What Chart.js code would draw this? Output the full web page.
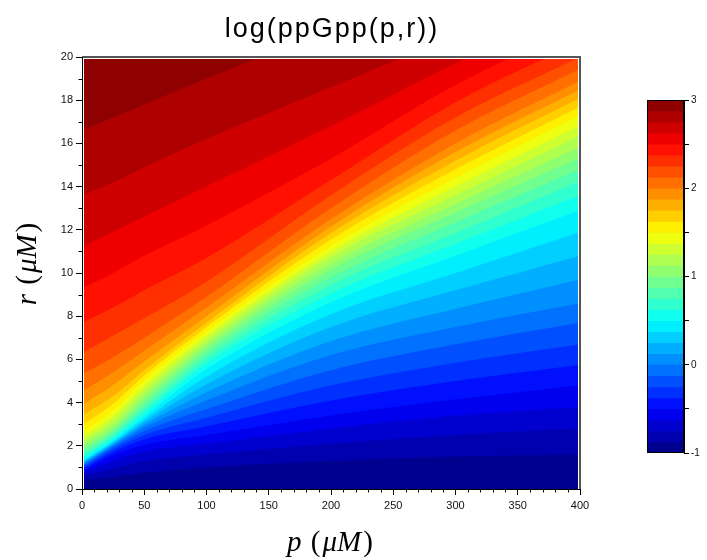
<!DOCTYPE html>
<html>
<head>
<meta charset="utf-8">
<title>log(ppGpp(p,r))</title>
<script src="https://cdn.jsdelivr.net/npm/chart.js@4.4.1/dist/chart.umd.min.js"></script>
<style>
  html, body { margin: 0; padding: 0; background: #fff; }
  #wrap { position: relative; width: 707px; height: 560px; }
  #wrap canvas { position: absolute; left: 0; top: 0; }
</style>
</head>
<body>
<div id="wrap">
  <canvas id="heat" width="707" height="560"></canvas>
  <canvas id="colorbar" width="707" height="560"></canvas>
</div>
<script>
// p sample positions (uM) where each contour is read
const pGrid = [0, 25, 50, 100, 200, 300, 400];

// contour levels of log(ppGpp), lower edge of every colour band above the floor
const levelEdges = [
  -0.875, -0.75, -0.625, -0.5, -0.375, -0.25, -0.125, 0,
  0.125, 0.25, 0.375, 0.5, 0.625, 0.75, 0.875, 1,
  1.125, 1.25, 1.375, 1.5, 1.625, 1.75, 1.875, 2,
  2.125, 2.25, 2.375, 2.5, 2.625, 2.75, 2.875
];
const colorRange = [-1, 3];

// r (uM) where each level is crossed, one list per p column
const r_p0 = [0.40, 0.60, 0.72, 0.82, 0.90, 0.97, 1.04, 1.10, 1.15, 1.20, 1.26, 1.32, 1.42, 1.55, 1.70, 1.86,
  2.03, 2.21, 2.40, 2.62, 2.95, 3.40, 3.90, 4.50, 5.30, 6.30, 7.70, 9.30, 11.2, 13.6, 16.6];
const r_p25 = [0.55, 0.95, 1.30, 1.55, 1.70, 1.82, 1.92, 2.00, 2.06, 2.12, 2.18, 2.25, 2.36, 2.48, 2.62, 2.76,
  2.95, 3.15, 3.38, 3.62, 3.95, 4.30, 4.80, 5.40, 6.10, 7.10, 8.40, 10.0, 11.9, 14.2, 17.2];
const r_p50 = [0.75, 1.30, 1.75, 2.05, 2.30, 2.50, 2.68, 2.85, 2.98, 3.10, 3.22, 3.35, 3.52, 3.70, 3.90, 4.10,
  4.32, 4.55, 4.78, 5.02, 5.25, 5.50, 5.90, 6.40, 7.00, 7.90, 9.20, 10.8, 12.6, 14.9, 17.8];
const r_p100 = [1.00, 1.60, 2.10, 2.50, 2.90, 3.30, 3.70, 4.10, 4.48, 4.85, 5.20, 5.55, 5.82, 6.05, 6.28, 6.50,
  6.70, 6.90, 7.10, 7.30, 7.50, 7.70, 8.00, 8.40, 8.90, 9.60, 10.7, 12.2, 14.0, 16.2, 19.0];
const r_p200 = [1.30, 2.10, 2.80, 3.40, 4.10, 4.80, 5.50, 6.20, 6.85, 7.50, 8.10, 8.65, 9.05, 9.45, 9.80, 10.15,
  10.45, 10.75, 11.00, 11.25, 11.55, 11.85, 12.15, 12.50, 13.00, 13.60, 14.30, 15.30, 16.80, 18.60, 21.20];
const r_p300 = [1.50, 2.50, 3.40, 4.15, 5.00, 5.85, 6.70, 7.50, 8.35, 9.20, 10.00, 10.80, 11.35, 11.85, 12.35, 12.80,
  13.20, 13.60, 14.00, 14.40, 14.80, 15.20, 15.60, 16.00, 16.60, 17.20, 17.90, 18.70, 19.70, 21.00, 23.20];
const r_p400 = [1.60, 2.80, 3.80, 4.80, 5.75, 6.70, 7.70, 8.60, 9.70, 10.80, 11.90, 12.90, 13.60, 14.25, 14.80, 15.35,
  15.85, 16.35, 16.85, 17.30, 17.70, 18.10, 18.50, 18.90, 19.45, 20.00, 20.70, 21.50, 22.50, 23.60, 25.50];
const rColumns = [r_p0, r_p25, r_p50, r_p100, r_p200, r_p300, r_p400];

// jet colormap over colorRange
function jet(v) {
  const t = (v - colorRange[0]) / (colorRange[1] - colorRange[0]);
  const ch = (c) => Math.round(255 * Math.min(1, Math.max(0, 1.5 - Math.abs(4 * t - c))));
  return `rgb(${ch(3)}, ${ch(2)}, ${ch(1)})`;
}

const bandLows = [colorRange[0], ...levelEdges];
const bandHighs = [...levelEdges, colorRange[1]];
const bandColors = bandLows.map((lo, i) => jet((lo + bandHighs[i]) / 2));

const tickFont = { family: "'Liberation Sans', Arial, sans-serif", size: 11 };

// every band fills from its lower contour up to the top; higher bands are drawn on top
const heatSets = [];
heatSets.push({
  data: pGrid.map((p) => ({ x: p, y: 0 })),
  backgroundColor: bandColors[0],
  borderColor: bandColors[0],
  order: levelEdges.length + 1,
});
levelEdges.forEach((lvl, k) => {
  heatSets.push({
    data: pGrid.map((p, j) => ({ x: p, y: rColumns[j][k] })),
    backgroundColor: bandColors[k + 1],
    borderColor: bandColors[k + 1],
    order: levelEdges.length - k,
  });
});
heatSets.forEach((ds) => {
  ds.fill = "end";
  ds.borderWidth = 0;
  ds.pointRadius = 0;
  ds.cubicInterpolationMode = "monotone";
});

// draws "x (μM)" with the math letters in italic
function drawUnitLabel(ctx, letter, cx, cy, angle) {
  const parts = [[letter, "italic "], [" (", ""], ["\u03bcM", "italic "], [")", ""]];
  const fam = "29px 'Liberation Serif', 'DejaVu Serif', serif";
  const gap = 2;
  ctx.save();
  ctx.translate(cx, cy);
  ctx.rotate(angle);
  ctx.textAlign = "left";
  ctx.textBaseline = "middle";
  let w = 0;
  parts.forEach(([s, st]) => { ctx.font = st + fam; w += ctx.measureText(s).width + gap; });
  let x = -w / 2;
  parts.forEach(([s, st]) => {
    ctx.font = st + fam;
    ctx.fillText(s, x, 0);
    x += ctx.measureText(s).width + gap;
  });
  ctx.restore();
}

// frame, minor ticks, white margin round the image and the texts
const heatDecor = {
  id: "heatDecor",
  afterDatasetsDraw(chart) {
    const { ctx, chartArea: a, scales } = chart;
    ctx.save();
    ctx.fillStyle = "#fff";
    ctx.fillRect(a.left, a.top, a.right - a.left, 2);
    ctx.fillRect(a.left, a.top, 2, a.bottom - a.top);
    ctx.fillRect(a.right - 2, a.top, 2, a.bottom - a.top);

    ctx.strokeStyle = "#555";
    ctx.lineWidth = 2;
    ctx.beginPath();
    ctx.moveTo(a.left, a.top);
    ctx.lineTo(a.right, a.top);
    ctx.lineTo(a.right, a.bottom);
    ctx.stroke();

    ctx.strokeStyle = "#000";
    ctx.lineWidth = 1;
    ctx.beginPath();
    ctx.moveTo(a.left + 0.5, a.top);
    ctx.lineTo(a.left + 0.5, a.bottom + 0.5);
    ctx.lineTo(a.right, a.bottom + 0.5);
    for (let p = 10; p < 400; p += 10) {
      if (p % 50 === 0) continue;
      const x = Math.round(scales.x.getPixelForValue(p)) + 0.5;
      ctx.moveTo(x, a.bottom);
      ctx.lineTo(x, a.bottom + 3.5);
    }
    for (let r = 1; r < 20; r += 2) {
      const y = Math.round(scales.y.getPixelForValue(r)) + 0.5;
      ctx.moveTo(a.left, y);
      ctx.lineTo(a.left - 3.5, y);
    }
    ctx.stroke();
    ctx.restore();
  },
  afterDraw(chart) {
    const { ctx, chartArea: a } = chart;
    ctx.save();
    ctx.fillStyle = "#000";
    ctx.textBaseline = "middle";
    ctx.textAlign = "center";
    ctx.font = "27px 'Liberation Sans', Arial, sans-serif";
    ctx.letterSpacing = "2px";
    ctx.fillText("log(ppGpp(p,r))", (a.left + a.right) / 2 + 1, 30);
    ctx.letterSpacing = "0px";
    drawUnitLabel(ctx, "p", (a.left + a.right) / 2, 543, 0);
    drawUnitLabel(ctx, "r", 28, (a.top + a.bottom) / 2 - 10, -Math.PI / 2);
    ctx.restore();
  },
};

new Chart(document.getElementById("heat"), {
  type: "line",
  data: { datasets: heatSets },
  options: {
    responsive: false,
    animation: false,
    events: [],
    layout: { padding: { left: 0, top: 57, right: 127, bottom: 0 } },
    plugins: { legend: { display: false }, tooltip: { enabled: false } },
    elements: { line: { capBezierPoints: false } },
    scales: {
      x: {
        type: "linear",
        min: 0,
        max: 400,
        ticks: { stepSize: 50, font: tickFont, color: "#111", padding: 4, maxRotation: 0 },
        grid: { drawOnChartArea: false, tickLength: 6, color: "#000" },
        border: { color: "#000" },
        afterFit: (s) => { s.height = 71; },
      },
      y: {
        min: 0,
        max: 20,
        ticks: { stepSize: 2, font: tickFont, color: "#111", padding: 3 },
        grid: { drawOnChartArea: false, tickLength: 6, color: "#000" },
        border: { color: "#000" },
        afterFit: (s) => { s.width = 82; },
      },
    },
  },
  plugins: [heatDecor],
});

// colour bar: each band is a floating bar from its level to the top, higher ones over lower ones
const barFrame = {
  id: "barFrame",
  afterDatasetsDraw(chart) {
    const { ctx, chartArea: a } = chart;
    ctx.save();
    ctx.strokeStyle = "#000";
    ctx.lineWidth = 1;
    ctx.strokeRect(a.left + 0.5, a.top + 0.5, a.right - a.left - 1, a.bottom - a.top - 1);
    ctx.restore();
  },
};

new Chart(document.getElementById("colorbar"), {
  type: "bar",
  data: {
    labels: [""],
    datasets: bandLows.map((lo, i) => ({
      data: [[lo, colorRange[1]]],
      backgroundColor: bandColors[i],
      borderWidth: 0,
      grouped: false,
      barPercentage: 1,
      categoryPercentage: 1,
      order: -i,
    })),
  },
  options: {
    responsive: false,
    animation: false,
    events: [],
    layout: { padding: { left: 647, top: 100, right: 0, bottom: 107 } },
    plugins: { legend: { display: false }, tooltip: { enabled: false } },
    scales: {
      x: { display: false },
      y: {
        position: "right",
        min: colorRange[0],
        max: colorRange[1],
        ticks: {
          stepSize: 0.5,
          font: { family: tickFont.family, size: 10 },
          color: "#111",
          padding: 2,
          callback: (v) => (Number.isInteger(v) ? String(v) : ""),
        },
        grid: { drawOnChartArea: false, tickLength: 5, color: "#000" },
        border: { color: "#000" },
        afterFit: (s) => { s.width = 23; },
      },
    },
  },
  plugins: [barFrame],
});
</script>
</body>
</html>
